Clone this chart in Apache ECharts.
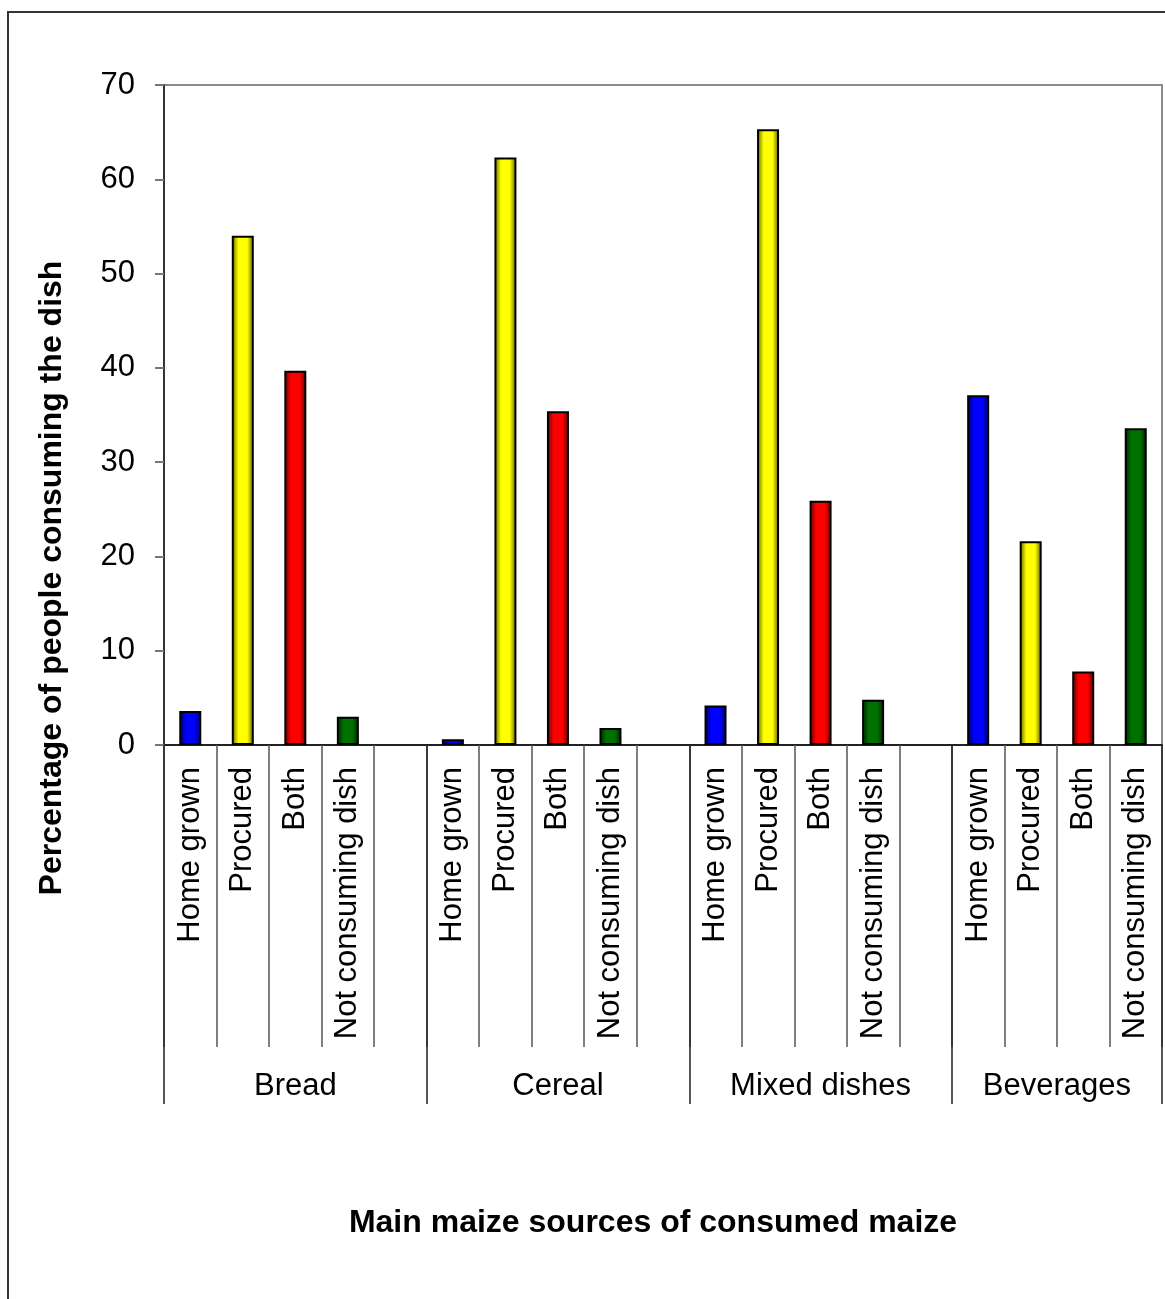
<!DOCTYPE html>
<html>
<head>
<meta charset="utf-8">
<script src="https://cdn.jsdelivr.net/npm/echarts@6/dist/echarts.min.js"></script>
<style>
html,body{margin:0;padding:0;background:#fff;overflow:hidden;}
#chart{width:1165px;height:1299px;position:absolute;left:0;top:0;}
#frame{position:absolute;left:7px;top:11px;width:2000px;height:2000px;border:2px solid #333;pointer-events:none;}
</style>
</head>
<body>
<div id="chart"></div>
<div id="frame"></div>
<script>
// ---- data ----
const groups = ['Bread', 'Cereal', 'Mixed dishes', 'Beverages'];
const sources = ['Home grown', 'Procured', 'Both', 'Not consuming dish'];
const breadValues = [3.6, 54.0, 39.7, 3.0];
const cerealValues = [0.6, 62.3, 35.4, 1.8];
const mixedValues = [4.2, 65.3, 25.9, 4.8];
const beverageValues = [37.1, 21.6, 7.8, 33.6];
const yTicks = [0, 10, 20, 30, 40, 50, 60, 70];
const yTitle = 'Percentage of people consuming the dish';
const xTitle = 'Main maize sources of consumed maize';

const groupValues = [breadValues, cerealValues, mixedValues, beverageValues];
const baseColors = ['#0000ff', '#ffff00', '#ff0000', '#007000'];
const darkColors = ['#000050', '#5a5a00', '#5a0000', '#002200'];

// build slot categories (4 bars + 1 spacer per group, no spacer after last)
const categories = [];
const barData = [];
const groupStarts = [];
const groupCounts = [];
groups.forEach((g, gi) => {
  groupStarts.push(categories.length);
  sources.forEach((s, si) => {
    categories.push(s);
    barData.push({
      value: groupValues[gi][si],
      itemStyle: {
        color: new echarts.graphic.LinearGradient(0, 0, 1, 0, [
          {offset: 0, color: darkColors[si]},
          {offset: 0.3, color: baseColors[si]},
          {offset: 0.7, color: baseColors[si]},
          {offset: 1, color: darkColors[si]}
        ])
      }
    });
  });
  if (gi < groups.length - 1) {
    categories.push(' '.repeat(gi + 1));
    barData.push(null);
  }
  groupCounts.push(categories.length - groupStarts[gi]);
});
const nSlots = categories.length;
const groupBounds = groupStarts.concat([nSlots]);
const groupCenters = groups.map((g, gi) => groupStarts[gi] + (gi < groups.length - 1 ? groupCounts[gi] : sources.length) / 2);

const FONT = '"Liberation Sans", Arial, sans-serif';

const chart = echarts.init(document.getElementById('chart'), null, {renderer: 'canvas'});
chart.setOption({
  animation: false,
  backgroundColor: 'transparent',
  title: {
    text: xTitle,
    left: 653,
    top: 1207,
    textAlign: 'center',
    padding: 0,
    textStyle: {fontFamily: FONT, fontSize: 32, fontWeight: 'bold', color: '#000'}
  },
  grid: {
    left: 164, top: 85, right: 3, bottom: 554,
    show: true, borderColor: '#8c8c8c', borderWidth: 2, backgroundColor: 'transparent',
    containLabel: false
  },
  xAxis: [
    {
      type: 'category',
      data: categories,
      position: 'bottom',
      axisLine: {show: true, lineStyle: {color: '#222', width: 2}},
      axisTick: {show: true, interval: 0, length: 302, lineStyle: {color: '#555', width: 1.5}},
      axisLabel: {
        interval: 0, rotate: 90, margin: 22,
        fontFamily: FONT, fontSize: 31, color: '#000'
      },
      splitLine: {show: false}
    },
    {
      type: 'value',
      min: 0, max: nSlots,
      position: 'bottom',
      axisLine: {show: false},
      axisTick: {show: true, customValues: groupBounds, length: 359, lineStyle: {color: '#222', width: 1.5}},
      axisLabel: {
        customValues: groupCenters,
        margin: 326,
        fontFamily: FONT, fontSize: 31, color: '#000',
        formatter: function (v) {
          const i = groupCenters.findIndex(c => Math.abs(c - v) < 1e-6);
          return i >= 0 ? groups[i] : '';
        }
      },
      splitLine: {show: false}
    }
  ],
  yAxis: {
    type: 'value',
    min: yTicks[0], max: yTicks[yTicks.length - 1], interval: yTicks[1] - yTicks[0],
    axisLine: {show: true, lineStyle: {color: '#333', width: 2}},
    axisTick: {show: true, length: 9, lineStyle: {color: '#777', width: 2}},
    axisLabel: {margin: 29, fontFamily: FONT, fontSize: 31, color: '#000'},
    splitLine: {show: false}
  },
  graphic: [{
    type: 'text',
    x: 52, y: 578,
    rotation: Math.PI / 2,
    style: {
      text: yTitle,
      font: 'bold 32px ' + FONT,
      fill: '#000',
      align: 'center',
      verticalAlign: 'middle'
    }
  }],
  series: [{
    type: 'bar',
    xAxisIndex: 0,
    data: barData,
    barWidth: 22,
    itemStyle: {borderColor: '#000', borderWidth: 2}
  }]
});
</script>
</body>
</html>
